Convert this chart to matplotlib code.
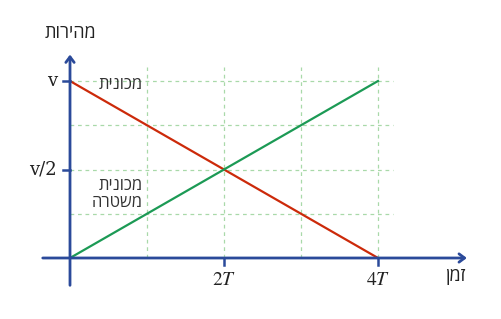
import matplotlib
matplotlib.use("Agg")
import matplotlib.pyplot as plt

# data (time in units of T, speed in units of v)
time = [0, 4]
car_speed = [1, 0]
police_speed = [0, 1]

xticks = [2, 4]
xtick_labels = [r"$2T$", r"$4T$"]
yticks = [1, 0.5]
ytick_labels = ["v", "v/2"]
grid_x = [1, 2, 3, 4]
grid_y = [0.25, 0.5, 0.75, 1.0]

x_title = "זמן"
y_title = "מהירות"
car_label = "מכונית"
police_label = ["מכונית", "משטרה"]


def heb(s):
    # matplotlib has no bidi, flip for display
    return s[::-1]


plt.rcParams["mathtext.fontset"] = "stix"
heb_font = ["Open Sans", "DejaVu Sans"]

axis_col = "#2b4a9a"
red = "#cc2a0a"
green = "#1c9a55"
grid_col = "#a9d9a9"
txt_col = "#333333"

fig = plt.figure(figsize=(5.01, 3.19), dpi=100)
ax = fig.add_axes([0, 0, 1, 1])
# pixel mapping: x=0 -> 70px, 1T = 77px ; y=0 -> 258px, 1v = 177px
ax.set_xlim(-70 / 77, (501 - 70) / 77)
ax.set_ylim(-(319 - 258) / 177, 258 / 177)
ax.axis("off")

# grid
for gx in grid_x:
    ax.plot([gx, gx], [0, 1.08], color=grid_col, lw=0.9, ls=(0, (3, 3)), zorder=1)
for gy in grid_y:
    ax.plot([0, 4.19], [gy, gy], color=grid_col, lw=0.9, ls=(0, (3, 3)), zorder=1)

# lines
ax.plot(time, car_speed, color=red, lw=1.6, zorder=3)
ax.plot(time, police_speed, color=green, lw=1.6, zorder=3)

# axes with arrows
ax.annotate("", xy=(5.19, 0), xytext=(-0.39, 0),
            arrowprops=dict(arrowstyle="->,head_length=0.4,head_width=0.3",
                            color=axis_col, lw=2), zorder=4)
ax.annotate("", xy=(0, 1.165), xytext=(0, -0.17),
            arrowprops=dict(arrowstyle="->,head_length=0.4,head_width=0.3",
                            color=axis_col, lw=2), zorder=4)

# ticks
for t, lab in zip(xticks, xtick_labels):
    ax.plot([t, t], [0, -0.04], color=axis_col, lw=1.8, zorder=4)
    ax.text(t, -0.12, lab, ha="center", va="center", fontsize=14, color="#222222")
for t, lab in zip(yticks, ytick_labels):
    ax.plot([-0.09, 0], [t, t], color=axis_col, lw=1.8, zorder=4)
    ax.text(-0.17, t, lab, ha="right", va="center", fontsize=13,
            family="DejaVu Serif", color="#222222")

# titles
ax.text(5.0, -0.10, heb(x_title), ha="center", va="center", fontsize=13,
        family=heb_font, color="#222222")
ax.text(0, 1.27, heb(y_title), ha="center", va="center", fontsize=13,
        family=heb_font, color="#222222")

# line labels
ax.text(0.94, 0.975, heb(car_label), ha="right", va="center", fontsize=12,
        family=heb_font, color=txt_col)
ax.text(0.94, 0.407, heb(police_label[0]), ha="right", va="center", fontsize=12,
        family=heb_font, color=txt_col)
ax.text(0.94, 0.311, heb(police_label[1]), ha="right", va="center", fontsize=12,
        family=heb_font, color=txt_col)

fig.savefig("out.png", dpi=100)
